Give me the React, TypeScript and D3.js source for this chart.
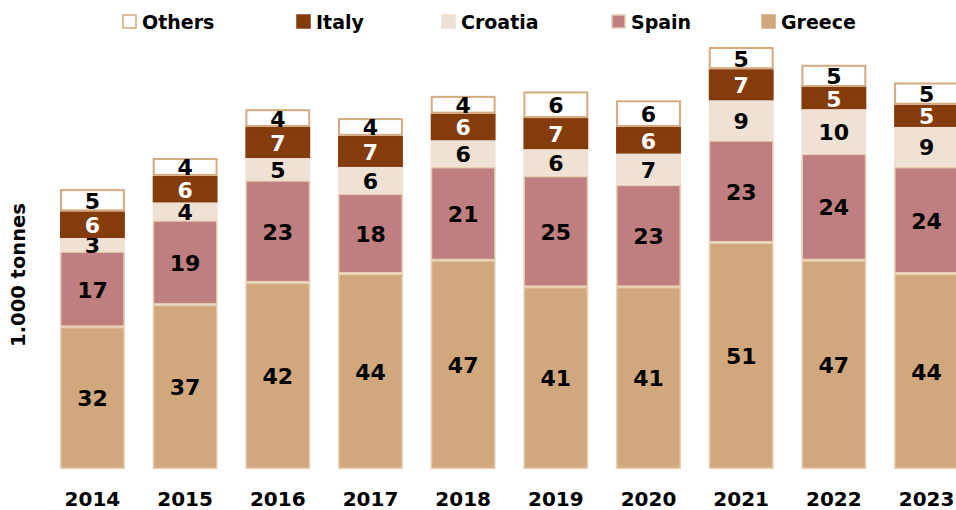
import React from "react";
import * as d3 from "d3";

const years = ["2014", "2015", "2016", "2017", "2018", "2019", "2020", "2021", "2022", "2023"];
const greece = [32, 37, 42, 44, 47, 41, 41, 51, 47, 44];
const spain = [17, 19, 23, 18, 21, 25, 23, 23, 24, 24];
const croatia = [3, 4, 5, 6, 6, 6, 7, 9, 10, 9];
const italy = [6, 6, 7, 7, 6, 7, 6, 7, 5, 5];
const others = [5, 4, 4, 4, 4, 6, 6, 5, 5, 5];

const seriesNames = ["Greece", "Spain", "Croatia", "Italy", "Others"];
const seriesValues = [greece, spain, croatia, italy, others];
const colors: Record<string, string> = {
  Greece: "#d1a87d",
  Spain: "#bf7e80",
  Croatia: "#efe1d3",
  Italy: "#843c0c",
  Others: "#ffffff",
};
const strokes: Record<string, string> = {
  Greece: "#e6cdb0",
  Spain: "#e6cdb0",
  Croatia: "#efe1d3",
  Italy: "#843c0c",
  Others: "#d4a97e",
};
const labelColors: Record<string, string> = {
  Greece: "#000",
  Spain: "#000",
  Croatia: "#000",
  Italy: "#fff",
  Others: "#000",
};
const legendOrder = ["Others", "Italy", "Croatia", "Spain", "Greece"];
const legendX = [122, 296, 441, 611, 761];

const FONT = "'DejaVu Sans', sans-serif";

export default function App() {
  const W = 956, H = 510;
  const x = d3.scaleBand<string>().domain(years).range([60, 959]).paddingInner(0.3).paddingOuter(0);
  const y = d3.scaleLinear().domain([0, 95]).range([469, 47]);

  const rows = years.map((yr, i) => {
    const r: any = { year: yr };
    seriesNames.forEach((s, k) => (r[s] = seriesValues[k][i]));
    return r;
  });
  const stack = d3.stack<any>().keys(seriesNames)(rows);

  return (
    <svg width={W} height={H} style={{ position: "absolute", left: 0, top: 0, background: "#fff" }}>
      <text x={167} y={-3} textAnchor="middle" fontFamily={FONT} fontWeight="bold" fontSize={20}>(in 1.000 tonnes)</text>
      {legendOrder.map((s, i) => (
        <g key={s}>
          <rect x={legendX[i] + 1} y={15} width={13} height={13} fill={colors[s]} stroke={s === "Others" ? strokes[s] : s === "Spain" ? "#e6cdb0" : colors[s]} strokeWidth={1.5} />
          <text x={legendX[i] + 20} y={22} dominantBaseline="central" fontFamily={FONT} fontWeight="bold" fontSize={19}>{s}</text>
        </g>
      ))}
      <text transform="translate(18,275) rotate(-90)" textAnchor="middle" dominantBaseline="central" fontFamily={FONT} fontWeight="bold" fontSize={19.5}>1.000 tonnes</text>
      {stack.map((layer) => (
        <g key={layer.key}>
          {layer.map((d, i) => {
            const x0 = x(years[i])!;
            const bw = x.bandwidth();
            const y0 = y(d[1]);
            const h = y(d[0]) - y(d[1]);
            const sw = layer.key === "Others" ? 2 : 1.5;
            return (
              <rect key={i} x={x0 + sw / 2} y={y0 + sw / 2} width={bw - sw} height={h - sw} fill={colors[layer.key]} stroke={strokes[layer.key]} strokeWidth={sw} />
            );
          })}
          {layer.map((d, i) => (
            <text key={"t" + i} x={x(years[i])! + x.bandwidth() / 2} y={(y(d[0]) + y(d[1])) / 2 + 1} textAnchor="middle" dominantBaseline="central" fontFamily={FONT} fontWeight="bold" fontSize={22} fill={labelColors[layer.key]}>
              {d[1] - d[0]}
            </text>
          ))}
        </g>
      ))}
      {years.map((yr) => (
        <text key={yr} x={x(yr)! + x.bandwidth() / 2} y={499} textAnchor="middle" dominantBaseline="central" fontFamily={FONT} fontWeight="bold" fontSize={20}>{yr}</text>
      ))}
    </svg>
  );
}
